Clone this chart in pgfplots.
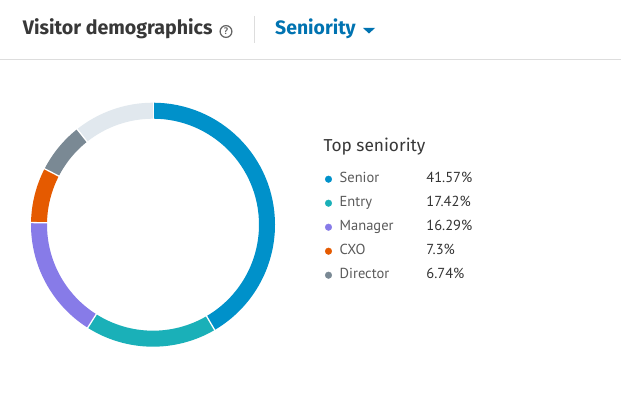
\documentclass[border=0pt]{standalone}
\usepackage{pgfplots}
\pgfplotsset{compat=1.18}
\usepackage{pgfplotstable}
\usepackage{fontspec}
\setmainfont{PT Sans}
\newfontfamily\hfont{Fira Sans}
\definecolor{cSenior}{RGB}{0,145,202}
\definecolor{cEntry}{RGB}{26,176,184}
\definecolor{cManager}{RGB}{135,123,232}
\definecolor{cCXO}{RGB}{229,90,0}
\definecolor{cDirector}{RGB}{122,137,148}
\definecolor{cOther}{RGB}{225,232,238}
\colorlet{seg0}{cSenior}
\colorlet{seg1}{cEntry}
\colorlet{seg2}{cManager}
\colorlet{seg3}{cCXO}
\colorlet{seg4}{cDirector}
\colorlet{seg5}{cOther}
\definecolor{hdr}{RGB}{56,56,56}
\definecolor{lnk}{RGB}{0,115,177}
\definecolor{namec}{RGB}{90,90,90}
\definecolor{pctc}{RGB}{51,51,51}
\definecolor{rulec}{RGB}{221,221,221}
\definecolor{iconc}{RGB}{102,102,102}

% segments clockwise from 12 o'clock; start = cumulative share before the segment
\pgfplotstableread{
label    cx cy val   start idx
Senior   0  0  41.57 0     0
Entry    0  0  17.42 41.57 1
Manager  0  0  16.29 58.99 2
CXO      0  0  7.30  75.28 3
Director 0  0  6.74  82.58 4
Other    0  0  10.68 89.32 5
}\segtable

\begin{document}
\begin{tikzpicture}
\useasboundingbox (0,0) rectangle (621pt,394pt);
\fill[white] (0,0) rectangle (621pt,394pt);
\begin{axis}[
  hide axis, x=1pt, y=1pt,
  xmin=-153, xmax=468, ymin=-169.3, ymax=224.7,
  at={(153pt,169.3pt)}, anchor=origin, clip=false,
  legend style={at={(0.52335,0.56421)}, anchor=north west, draw=none, fill=none,
    inner sep=0pt, outer sep=0pt, row sep=9pt, column sep=7.7pt,
    font=\fontsize{14.5}{17}\selectfont,
    nodes={inner sep=0pt, text height=11pt, text depth=4pt}},
  legend cell align=left,
  legend image code/.code={\fill (3.3pt,0pt) circle (3.3pt);},
]
\addplot[forget plot, scatter, only marks, mark=*, mark size=0.01pt,
  mark options={draw=white, fill=white},
  point meta=\thisrow{val},
  visualization depends on={\thisrow{start} \as \segstart},
  visualization depends on={\thisrow{val} \as \segval},
  visualization depends on={\thisrow{idx} \as \segidx},
  scatter/@pre marker code/.code={%
    \pgfmathsetmacro\aA{90-3.6*\segstart}%
    \pgfmathsetmacro\aB{90-3.6*(\segstart+\segval)}%
    \pgfmathtruncatemacro\segi{\segidx}%
    \draw[draw=seg\segi, draw opacity=1, line width=16pt] (\aA:114pt) arc[start angle=\aA, end angle=\aB, radius=114pt];%
    \draw[white, draw opacity=1, line width=1.3pt] (\aA:105pt) -- (\aA:123pt);%
    \begin{scope}},
  scatter/@post marker code/.code={\end{scope}},
] table[x=cx, y=cy] {\segtable};

\addlegendimage{cSenior}
\addlegendentry{\makebox[86.7pt][l]{\color{namec}Senior}\color{pctc}41.57\%}
\addlegendimage{cEntry}
\addlegendentry{\makebox[86.7pt][l]{\color{namec}Entry}\color{pctc}17.42\%}
\addlegendimage{cManager}
\addlegendentry{\makebox[86.7pt][l]{\color{namec}Manager}\color{pctc}16.29\%}
\addlegendimage{cCXO}
\addlegendentry{\makebox[86.7pt][l]{\color{namec}CXO}\color{pctc}7.3\%}
\addlegendimage{cDirector}
\addlegendentry{\makebox[86.7pt][l]{\color{namec}Director}\color{pctc}6.74\%}
\end{axis}

% header
\node[anchor=base west, inner sep=0pt, text=hdr, font=\hfont\fontsize{19.6}{22}\selectfont\bfseries] at (22.7pt,359pt) {Visitor demographics};
\draw[iconc, line width=1.2pt] (226pt,362.5pt) circle (5.9pt);
\node[inner sep=0pt, text=iconc, font=\fontsize{9.5}{9.5}\selectfont\bfseries] at (226pt,362.5pt) {?};
\draw[rulec, line width=1pt] (254.5pt,378pt) -- (254.5pt,351pt);
\node[anchor=base west, inner sep=0pt, text=lnk, font=\hfont\fontsize{19.4}{22}\selectfont\bfseries] at (275pt,359pt) {Seniority};
\fill[lnk] (363pt,366pt) -- (375pt,366pt) -- (369pt,360.5pt) -- cycle;
\draw[rulec, line width=1pt] (0pt,334pt) -- (621pt,334pt);
\node[anchor=base west, inner sep=0pt, text=hdr, font=\hfont\fontsize{17.3}{20}\selectfont] at (323.3pt,242.3pt) {Top seniority};
\end{tikzpicture}
\end{document}
